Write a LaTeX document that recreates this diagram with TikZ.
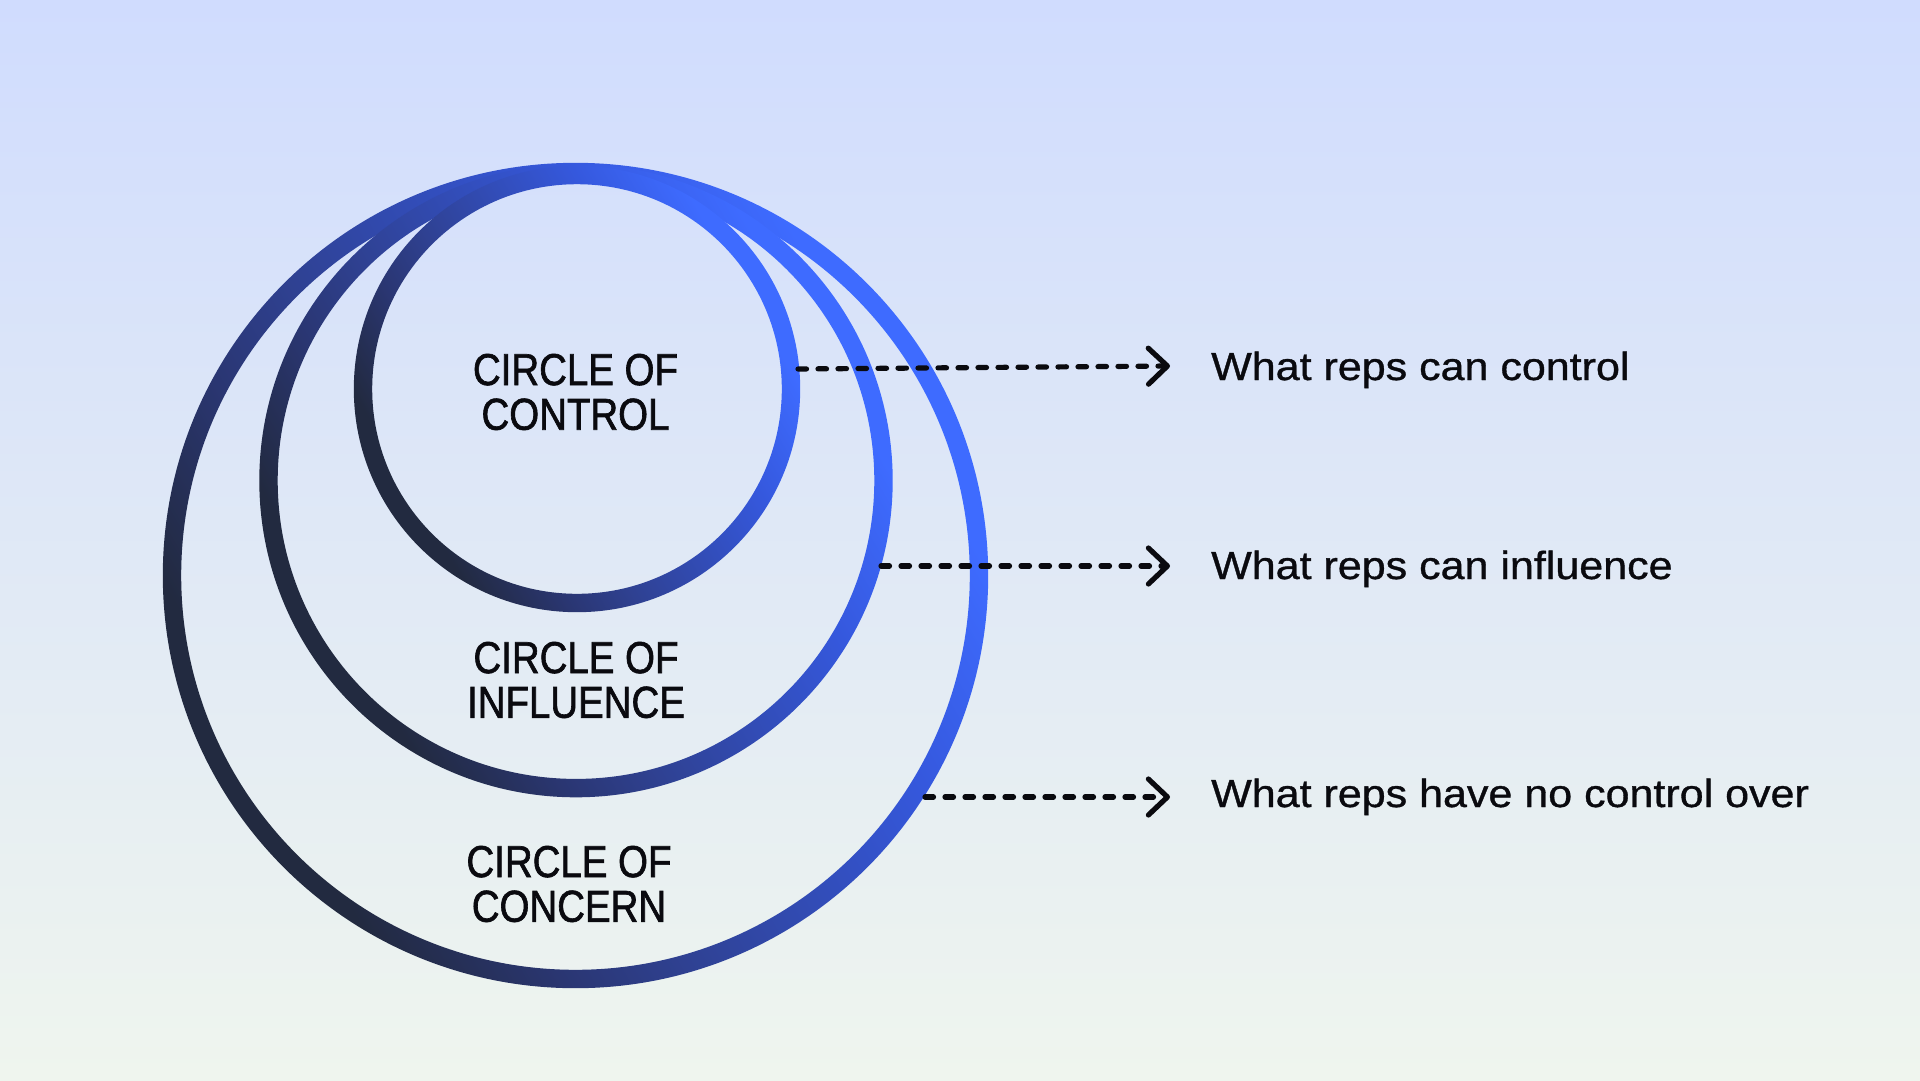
\documentclass[tikz,border=0pt]{standalone}
\usepackage{fontspec}
\setmainfont{Liberation Sans}
\newfontfamily\condfont[FakeStretch=0.86,FakeBold=1.4]{Liberation Sans}
\newfontfamily\widefont[FakeStretch=1.1,FakeBold=0.9]{Liberation Sans}
\usetikzlibrary{arrows.meta}
\definecolor{bgtop}{HTML}{D0DCFE}
\definecolor{bgbot}{HTML}{EFF5EE}
\definecolor{rdk}{HTML}{222A40}
\definecolor{rdkb}{HTML}{2A3672}
\definecolor{rmd}{HTML}{2F4192}
\definecolor{rbrb}{HTML}{3558DD}
\definecolor{rbr}{HTML}{3E6BFF}
\definecolor{txt}{HTML}{0A0A0F}
\pgfdeclarehorizontalshading{ringshade}{100bp}{color(0bp)=(rdk); color(28bp)=(rdk); color(37bp)=(rdkb); color(44bp)=(rmd); color(62bp)=(rbrb); color(72bp)=(rbr); color(100bp)=(rbr)}
\begin{document}
\begin{tikzpicture}[x=1pt,y=-1pt,
  ring/.style={shading=ringshade, shading angle=30, even odd rule},
  clab/.style={font=\condfont\fontsize{44.7}{44.7}\selectfont, align=center, inner sep=0pt, text=txt},
  lab/.style={font=\widefont\fontsize{39.1}{47}\selectfont, inner sep=0pt, text=txt, anchor=base west},
  conn/.style={draw=txt, line width=5.2pt, dash pattern=on 8.5pt off 11.5pt, line cap=round,
    -{Straight Barb[length=19pt,width=36pt,round]}}]
\useasboundingbox (0,0) rectangle (1920,1080);
\shade[top color=bgtop, bottom color=bgbot] (0,0) rectangle (1920,1080);
% centres
\coordinate (cO) at (575.5,575.5);
\coordinate (cM) at (576,480.6);
\coordinate (cI) at (577,389);
% rings
\shade[ring] (cO) circle[radius=412.7pt] (cO) circle[radius=394.3pt];
\shade[ring] (cM) circle[radius=316.7pt] (cM) circle[radius=298.3pt];
\shade[ring] (cI) circle[radius=223.2pt] (cI) circle[radius=204.8pt];
% circle labels
\node[clab] (lI) at (575.5,392) {CIRCLE OF\\CONTROL};
\node[clab] (lM) at (576,680) {CIRCLE OF\\INFLUENCE};
\node[clab] (lO) at (569,884) {CIRCLE OF\\CONCERN};
% right labels
\node[lab] (t1) at (1211,380) {What reps can control};
\node[lab] (t2) at (1211,579) {What reps can influence};
\node[lab] (t3) at (1211,807) {What reps have no control over};
% connectors
\coordinate (s1) at (798,369);
\coordinate (e1) at (1170,366);
\coordinate (s2) at (881,566);
\coordinate (e2) at (1170,566);
\coordinate (s3) at (925,797);
\coordinate (e3) at (1170,797);
\draw[conn] (s1) -- (e1);
\draw[conn] (s2) -- (e2);
\draw[conn] (s3) -- (e3);
\end{tikzpicture}
\end{document}
